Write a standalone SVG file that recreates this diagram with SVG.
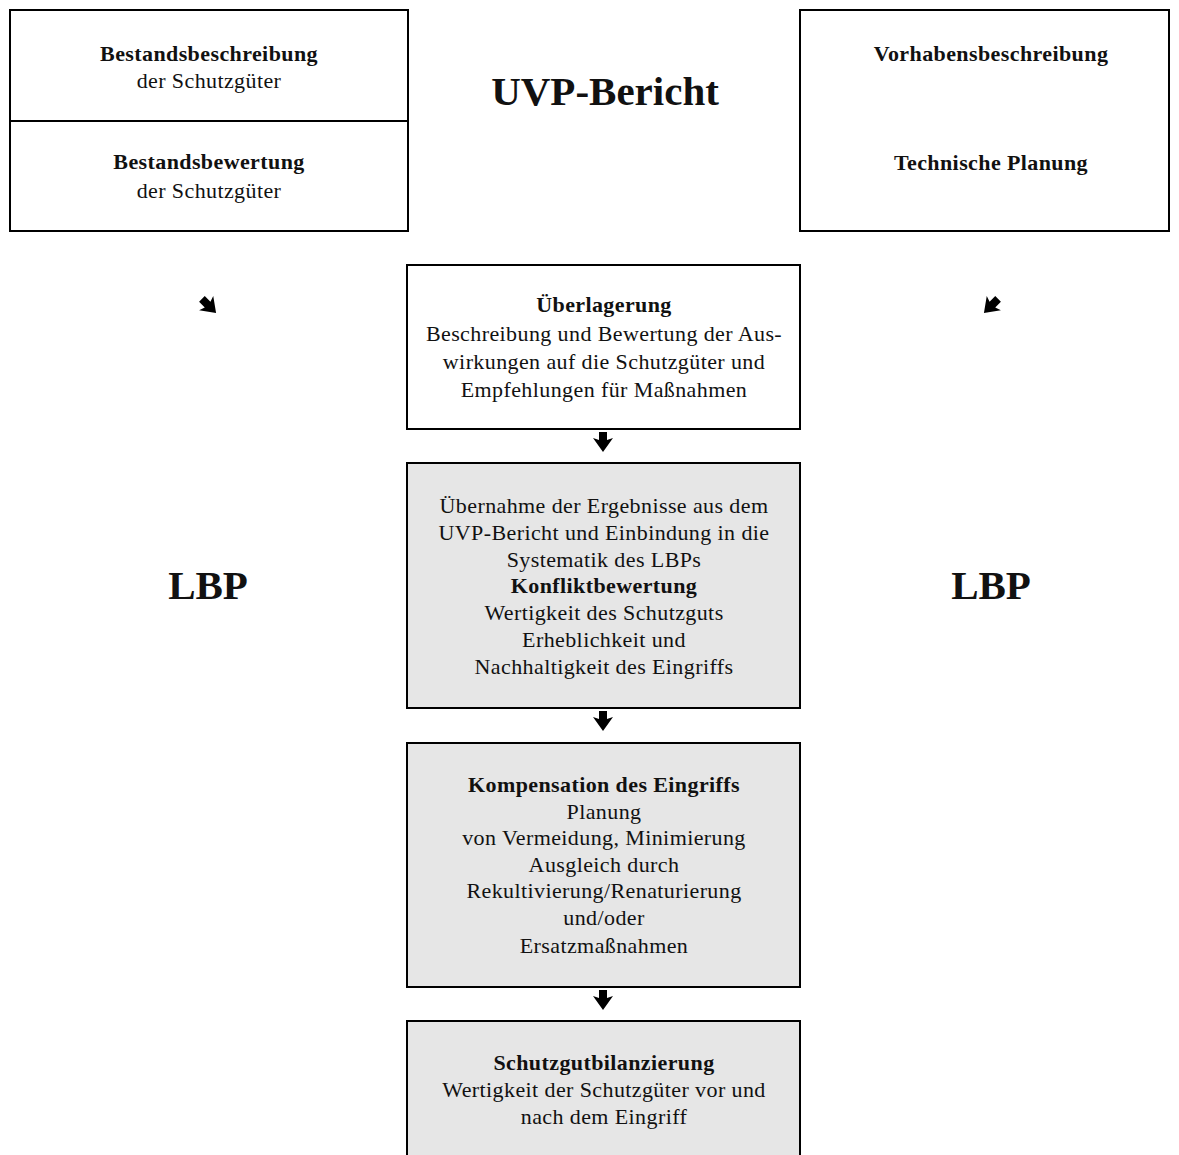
<svg xmlns="http://www.w3.org/2000/svg" width="1179" height="1155" viewBox="0 0 1179 1155">
<defs>
<style>
text{font-family:"Liberation Serif","Times New Roman",serif;fill:#111;text-anchor:middle;font-size:22px;letter-spacing:0.4px}
.b{font-weight:bold}
.big{font-size:41px;font-weight:bold;letter-spacing:0}
.box{stroke:#000;stroke-width:2;fill:#fff}
.g{fill:#e6e6e6}
</style>
<path id="arr" d="M-4,-10 L4,-10 L4,-2 L10,-4 L0,10 L-10,-4 L-4,-2 Z" fill="#000"/>
</defs>
<rect width="1179" height="1155" fill="#fff"/>
<g id="bestand">
<rect class="box" x="10" y="10" width="398" height="221"/>
<line x1="10" y1="121" x2="408" y2="121" stroke="#000" stroke-width="2"/>
<text class="b" x="209" y="61">Bestandsbeschreibung</text>
<text x="209" y="88">der Schutzgüter</text>
<text class="b" x="209" y="169">Bestandsbewertung</text>
<text x="209" y="198">der Schutzgüter</text>
</g>
<g id="title"><text class="big" x="605" y="105">UVP-Bericht</text></g>
<g id="vorhaben">
<rect class="box" x="800" y="10" width="369" height="221"/>
<text class="b" x="991" y="61">Vorhabensbeschreibung</text>
<text class="b" x="991" y="170">Technische Planung</text>
</g>
<g id="lbp-left"><text class="big" x="208" y="599">LBP</text></g>
<g id="lbp-right"><text class="big" x="991" y="599">LBP</text></g>
<g id="ueberlagerung">
<rect class="box" x="407" y="265" width="393" height="164"/>
<text class="b" x="604" y="312">Überlagerung</text>
<text x="604" y="341">Beschreibung und Bewertung der Aus-</text>
<text x="604" y="369">wirkungen auf die Schutzgüter und</text>
<text x="604" y="397">Empfehlungen für Maßnahmen</text>
</g>
<g id="konflikt">
<rect class="box g" x="407" y="463" width="393" height="245"/>
<text x="604" y="513">Übernahme der Ergebnisse aus dem</text>
<text x="604" y="540">UVP-Bericht und Einbindung in die</text>
<text x="604" y="567">Systematik des LBPs</text>
<text class="b" x="604" y="593">Konfliktbewertung</text>
<text x="604" y="620">Wertigkeit des Schutzguts</text>
<text x="604" y="647">Erheblichkeit und</text>
<text x="604" y="674">Nachhaltigkeit des Eingriffs</text>
</g>
<g id="kompensation">
<rect class="box g" x="407" y="743" width="393" height="244"/>
<text class="b" x="604" y="792">Kompensation des Eingriffs</text>
<text x="604" y="819">Planung</text>
<text x="604" y="845">von Vermeidung, Minimierung</text>
<text x="604" y="872">Ausgleich durch</text>
<text x="604" y="898">Rekultivierung/Renaturierung</text>
<text x="604" y="925">und/oder</text>
<text x="604" y="953">Ersatzmaßnahmen</text>
</g>
<g id="bilanz">
<path d="M407,1156 L407,1021 L800,1021 L800,1156" fill="#e6e6e6" stroke="#000" stroke-width="2"/>
<text class="b" x="604" y="1070">Schutzgutbilanzierung</text>
<text x="604" y="1097">Wertigkeit der Schutzgüter vor und</text>
<text x="604" y="1124">nach dem Eingriff</text>
</g>
<g id="connectors">
<use href="#arr" transform="translate(603,442)"/>
<use href="#arr" transform="translate(603,721)"/>
<use href="#arr" transform="translate(603,1000)"/>
<use href="#arr" transform="translate(209,306) rotate(-45)"/>
<use href="#arr" transform="translate(991,306) rotate(45)"/>
</g>
</svg>
